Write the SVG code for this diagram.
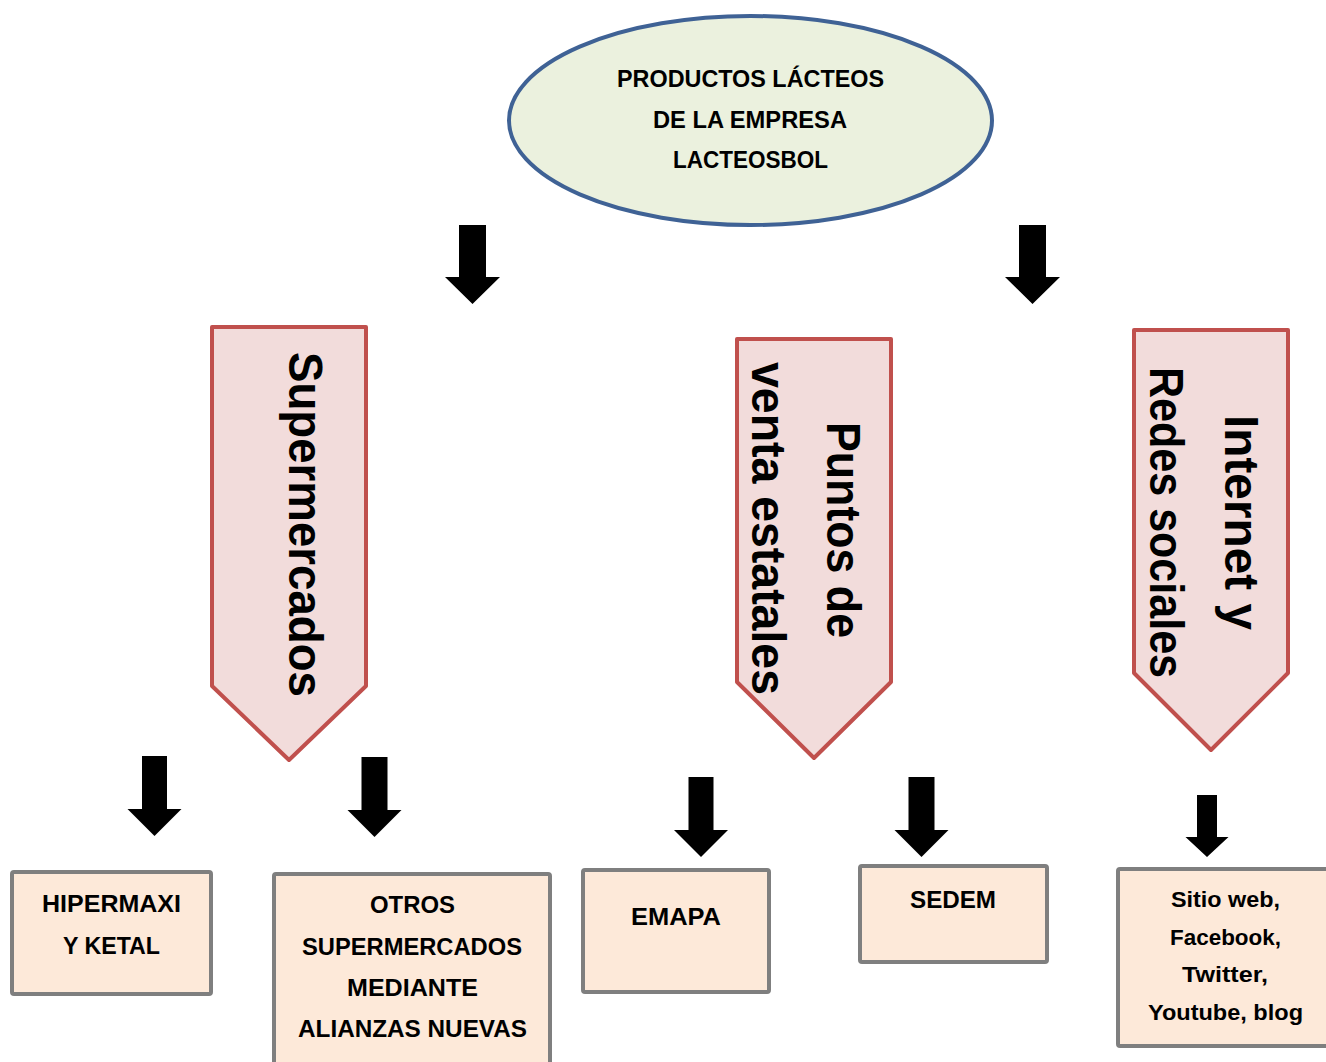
<svg xmlns="http://www.w3.org/2000/svg" width="1326" height="1062" viewBox="0 0 1326 1062">
<style>
.t{font-family:"Liberation Sans",Arial,sans-serif;font-weight:bold;fill:#000;text-anchor:middle}
.box{fill:#FDE9D9;stroke:#7F7F7F;stroke-width:4}
.chev{fill:#F2DCDB;stroke:#C0504D;stroke-width:4;stroke-linejoin:round}
.arr{fill:#000}
.big{font-size:48px}
.sm{font-size:24px}
</style>
<rect width="1326" height="1062" fill="#fff"/>
<g id="root">
<ellipse cx="750.5" cy="120.5" rx="241.5" ry="104.5" fill="#EBF1DE" stroke="#3F6295" stroke-width="4"/>
<text class="t sm" x="750.5" y="87" textLength="267" lengthAdjust="spacingAndGlyphs">PRODUCTOS LÁCTEOS</text>
<text class="t sm" x="750" y="128" textLength="194" lengthAdjust="spacingAndGlyphs">DE LA EMPRESA</text>
<text class="t sm" x="750.5" y="168" textLength="155" lengthAdjust="spacingAndGlyphs">LACTEOSBOL</text>
</g>
<g id="connectors">
<path class="arr" d="M459 225H486V277H500L472.5 304L445 277H459Z"/>
<path class="arr" d="M1019 225H1046V277H1060L1032.5 304L1005 277H1019Z"/>
<path class="arr" d="M142 756H167V809H181.5L154.5 836L127.5 809H142Z"/>
<path class="arr" d="M361.5 757H387.5V810H401.5L374.5 837L347.5 810H361.5Z"/>
<path class="arr" d="M688.5 777H713.5V830H728L701 857L674 830H688.5Z"/>
<path class="arr" d="M908.5 777H934.5V830H948.5L921.5 857L894.5 830H908.5Z"/>
<path class="arr" d="M1197 795H1217V837H1228.5L1207 857L1185.5 837H1197Z"/>
</g>
<g id="supermercados">
<path class="chev" d="M212 327H366V686L289 760L212 686Z"/>
<text class="t big" transform="translate(289,524.5) rotate(90)" x="0" y="0" textLength="345" lengthAdjust="spacingAndGlyphs">Supermercados</text>
</g>
<g id="puntos">
<path class="chev" d="M737 339H891V682L814 758L737 682Z"/>
<text class="t big" transform="translate(827,530) rotate(90)" x="0" y="0" textLength="216" lengthAdjust="spacingAndGlyphs">Puntos de</text>
<text class="t big" transform="translate(752,528.5) rotate(90)" x="0" y="0" textLength="333" lengthAdjust="spacingAndGlyphs">venta estatales</text>
</g>
<g id="internet">
<path class="chev" d="M1134 330H1288V673L1211 750L1134 673Z"/>
<text class="t big" transform="translate(1225,522.5) rotate(90)" x="0" y="0" textLength="215" lengthAdjust="spacingAndGlyphs">Internet y</text>
<text class="t big" transform="translate(1150,522.5) rotate(90)" x="0" y="0" textLength="311" lengthAdjust="spacingAndGlyphs">Redes sociales</text>
</g>
<g id="hipermaxi">
<rect class="box" x="12" y="872" width="199" height="122" rx="2"/>
<text class="t sm" x="111.5" y="912" textLength="139" lengthAdjust="spacingAndGlyphs">HIPERMAXI</text>
<text class="t sm" x="111.5" y="954" textLength="97" lengthAdjust="spacingAndGlyphs">Y KETAL</text>
</g>
<g id="otros">
<rect class="box" x="274" y="874" width="276" height="200" rx="2"/>
<text class="t sm" x="412.5" y="913" textLength="85" lengthAdjust="spacingAndGlyphs">OTROS</text>
<text class="t sm" x="412" y="955" textLength="220" lengthAdjust="spacingAndGlyphs">SUPERMERCADOS</text>
<text class="t sm" x="412.5" y="996" textLength="131" lengthAdjust="spacingAndGlyphs">MEDIANTE</text>
<text class="t sm" x="412.5" y="1037" textLength="229" lengthAdjust="spacingAndGlyphs">ALIANZAS NUEVAS</text>
</g>
<g id="emapa">
<rect class="box" x="583" y="870" width="186" height="122" rx="2"/>
<text class="t sm" x="676" y="925" textLength="90" lengthAdjust="spacingAndGlyphs">EMAPA</text>
</g>
<g id="sedem">
<rect class="box" x="860" y="866" width="187" height="96" rx="2"/>
<text class="t sm" x="953" y="908" textLength="86" lengthAdjust="spacingAndGlyphs">SEDEM</text>
</g>
<g id="internet-items">
<rect class="box" x="1118" y="869" width="230" height="177" rx="2"/>
<text class="t" font-size="22" x="1225.5" y="907" textLength="109" lengthAdjust="spacingAndGlyphs">Sitio web,</text>
<text class="t" font-size="22" x="1225.5" y="945" textLength="111" lengthAdjust="spacingAndGlyphs">Facebook,</text>
<text class="t" font-size="22" x="1225" y="982" textLength="86" lengthAdjust="spacingAndGlyphs">Twitter,</text>
<text class="t" font-size="22" x="1225.5" y="1020" textLength="155" lengthAdjust="spacingAndGlyphs">Youtube, blog</text>
</g>
</svg>
